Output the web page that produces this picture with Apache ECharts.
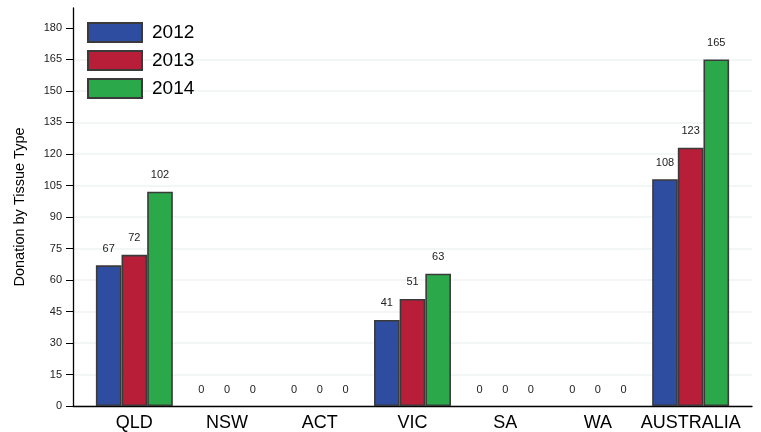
<!DOCTYPE html>
<html>
<head>
<meta charset="utf-8">
<script src="https://cdn.jsdelivr.net/npm/echarts@6/dist/echarts.min.js"></script>
<style>html,body{margin:0;padding:0;background:#fff;}#c{width:761px;height:432px;}</style>
</head>
<body>
<div id="c"></div>
<script>
const categories = ['QLD', 'NSW', 'ACT', 'VIC', 'SA', 'WA', 'AUSTRALIA'];
const years = ['2012', '2013', '2014'];
const values2012 = [67, 0, 0, 41, 0, 0, 108];
const values2013 = [72, 0, 0, 51, 0, 0, 123];
const values2014 = [102, 0, 0, 63, 0, 0, 165];
const yTicks = [0, 15, 30, 45, 60, 75, 90, 105, 120, 135, 150, 165, 180];
const colors = ['#2F4DA0', '#B81E38', '#2BA84A'];

const FONT = 'Liberation Sans, Arial, sans-serif';
const yMax = 189.5;
const seriesValues = [values2012, values2013, values2014];

const chart = echarts.init(document.getElementById('c'), null, {renderer: 'canvas'});
chart.setOption({
  animation: false,
  backgroundColor: '#fff',
  textStyle: {fontFamily: FONT},
  legend: {
    orient: 'vertical',
    left: 87,
    top: 22,
    padding: 0,
    icon: 'rect',
    itemWidth: 54,
    itemHeight: 19,
    itemGap: 7,
    data: years,
    textStyle: {fontSize: 19, color: '#000', fontFamily: FONT, padding: [0, 0, 0, 5]}
  },
  grid: [
    {left: 88, right: 24, top: 8, bottom: 26, containLabel: false},
    {left: 73, right: 9, top: 8, bottom: 26, containLabel: false}
  ],
  xAxis: [
    {
      type: 'category', gridIndex: 0, data: categories,
      axisLine: {show: false}, axisTick: {show: false},
      axisLabel: {interval: 0, fontSize: 18, color: '#000', margin: 8, fontFamily: FONT}
    },
    {
      type: 'value', gridIndex: 1, min: 0, max: 1,
      axisLine: {show: true, lineStyle: {color: '#000', width: 1.3}},
      axisTick: {show: false}, axisLabel: {show: false}, splitLine: {show: false}
    }
  ],
  yAxis: [
    {
      type: 'value', gridIndex: 0, min: 0, max: yMax,
      show: false, splitLine: {show: false}
    },
    {
      type: 'value', gridIndex: 1, min: 0, max: yMax, interval: 15,
      name: 'Donation by Tissue Type', nameLocation: 'middle', nameGap: 46,
      nameTextStyle: {fontSize: 14.5, color: '#000', fontFamily: FONT},
      axisLine: {show: true, lineStyle: {color: '#000', width: 1.3}},
      axisTick: {show: true, length: 7, lineStyle: {color: '#000'}, customValues: yTicks},
      axisLabel: {fontSize: 11, color: '#222', margin: 11, customValues: yTicks, fontFamily: FONT},
      splitLine: {show: true, showMaxLine: false, lineStyle: {color: '#eef3f3', width: 1.5}}
    }
  ],
  series: years.map((y, i) => ({
    name: y,
    type: 'bar',
    xAxisIndex: 0, yAxisIndex: 0,
    data: seriesValues[i].map(v => v === 0 ? {value: v, itemStyle: {borderWidth: 0, opacity: 0}, label: {opacity: 1}} : v),
    barGap: 0,
    barCategoryGap: '17%',
    itemStyle: {color: colors[i], borderColor: '#3a3a3a', borderWidth: 1.6},
    label: {show: true, position: 'top', distance: 11, fontSize: 11, color: '#222', fontFamily: FONT}
  }))
});
</script>
</body>
</html>
